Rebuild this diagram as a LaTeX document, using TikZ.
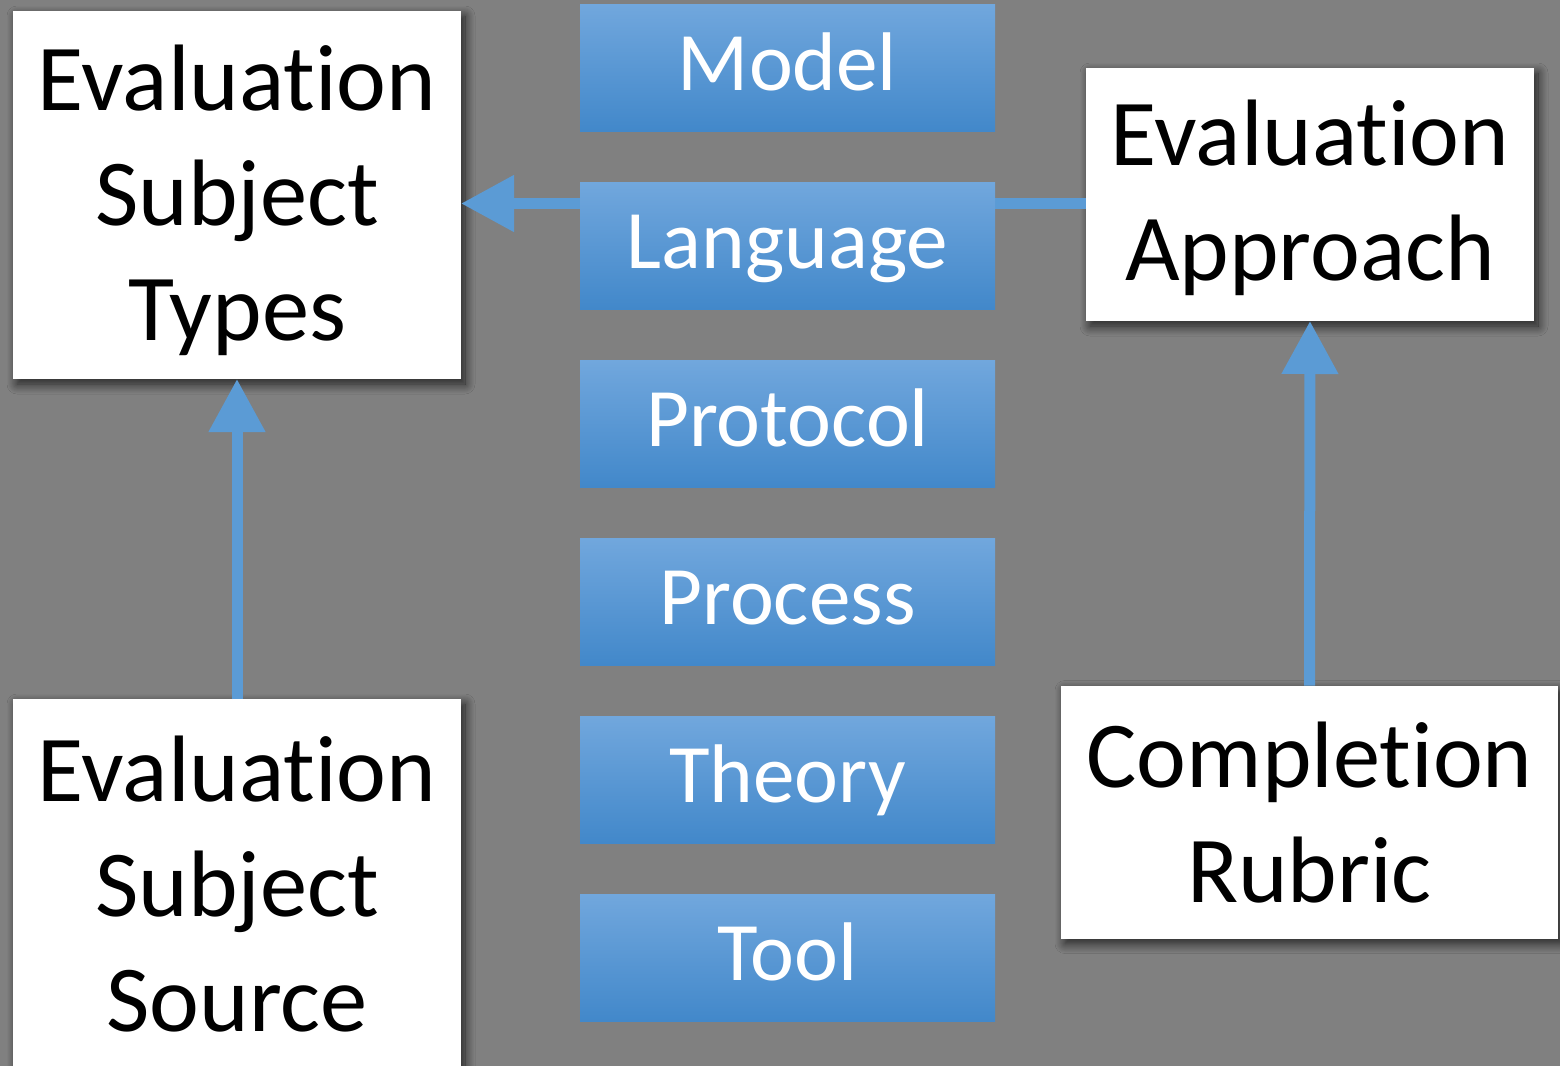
\documentclass[tikz,border=0pt]{standalone}
\usepackage{fontspec}
\setmainfont{Carlito}[Ligatures={NoCommon,NoRare,NoContextual}]
\usetikzlibrary{arrows.meta,shadows.blur,calc}
\definecolor{bggray}{RGB}{128,128,128}
\definecolor{arrowblue}{RGB}{91,155,213}
\definecolor{bluetop}{RGB}{113,167,221}
\definecolor{bluebot}{RGB}{66,136,202}
\tikzset{
  whitebox/.style={fill=white, inner sep=0pt, outer sep=0pt,
    blur shadow={shadow xshift=2pt, shadow yshift=-2.5pt, shadow blur radius=5pt, shadow blur steps=12, shadow opacity=75}},
  boxtext/.style={inner sep=0pt, align=center, text=black,
    font=\fontsize{47.2}{57.5}\selectfont},
  bluebox/.style={top color=bluetop, bottom color=bluebot, inner sep=0pt, outer sep=0pt,
    minimum width=207.5pt, minimum height=63.5pt, text=white,
    text height=30pt, text depth=7.5pt,
    font=\fontsize{41.6}{52}\selectfont},
  conn/.style={draw=arrowblue, line width=5.5pt, -{Triangle[length=26.5pt,width=27pt]}}
}
\begin{document}
\begin{tikzpicture}[x=0.5pt,y=-0.5pt]
\fill[bggray] (0,0) rectangle (1560,1066);
\clip (0,0) rectangle (1560,1066);
\useasboundingbox (0,0) rectangle (1560,1066);
\node[whitebox, minimum width=224pt, minimum height=184pt] (types) at (237,195) {};
\node[whitebox, minimum width=224pt, minimum height=186pt] (source) at (237,885) {};
\node[whitebox, minimum width=224pt, minimum height=126.5pt] (approach) at (1310,194.5) {};
\node[whitebox, minimum width=248.5pt, minimum height=126.5pt] (rubric) at (1309.5,812) {};
\node[boxtext] (typesT) at ($(types.center)+(0,5)$) {Evaluation\\Subject\\Types};
\node[boxtext] (sourceT) at ($(source.center)+(0,-1)$) {Evaluation\\Subject\\Source};
\node[boxtext] (approachT) at ($(approach.center)+(0,3)$) {Evaluation\\Approach};
\node[boxtext] (rubricT) at ($(rubric.center)+(0,1)$) {Completion\\Rubric};
\draw[conn] ($(approach.west)+(0,9)$) -- ($(types.east)+(0,8.5)$);
\draw[conn] (source.north) -- (types.south);
\draw[conn] (rubric.north) -- (approach.south);
\node[bluebox] (model) at (787.5,67.5) {Model};
\node[bluebox] (language) at (787.5,245.5) {Language};
\node[bluebox] (protocol) at (787.5,423.5) {Protocol};
\node[bluebox] (process) at (787.5,601.5) {Process};
\node[bluebox] (theory) at (787.5,779.5) {Theory};
\node[bluebox] (tool) at (787.5,957.5) {Tool};
\end{tikzpicture}
\end{document}
